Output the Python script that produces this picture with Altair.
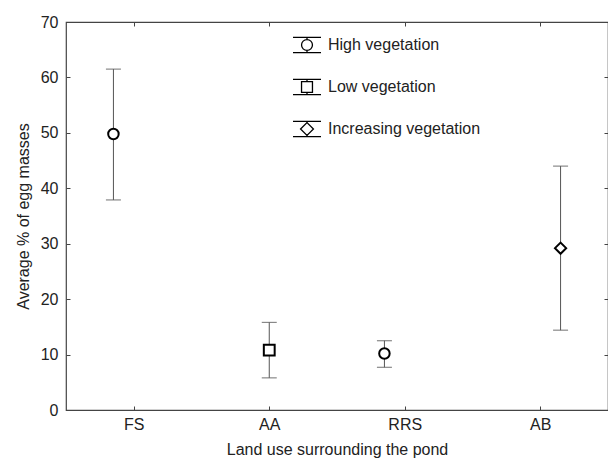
import altair as alt
import pandas as pd

categories = ["FS", "AA", "RRS", "AB"]
groups = ["High vegetation", "Low vegetation", "High vegetation", "Increasing vegetation"]
means = [49.8, 10.8, 10.2, 29.2]
lower = [37.9, 5.8, 7.7, 14.4]
upper = [61.5, 15.8, 12.5, 44.0]

group_order = ["High vegetation", "Low vegetation", "Increasing vegetation"]
dodge = {"High vegetation": -0.15, "Low vegetation": 0.0, "Increasing vegetation": 0.15}

df = pd.DataFrame({"cat": categories, "group": groups, "mean": means, "lo": lower, "hi": upper})
df["pos"] = [categories.index(c) + 1 + dodge[g] for c, g in zip(df["cat"], df["group"])]

FONT = "Liberation Sans"
label_expr = "[" + ",".join("'%s'" % c for c in categories) + "][datum.value - 1]"

xscale = alt.Scale(domain=[0.5, 4.5], nice=False, zero=False)
yscale = alt.Scale(domain=[0, 70], nice=False)

x_bottom = alt.Axis(values=[1, 2, 3, 4], labelExpr=label_expr, title="Land use surrounding the pond",
                    grid=False, domain=False, tickSize={"expr": "-4"}, labelPadding=10,
                    titlePadding=9)
y_left = alt.Axis(values=list(range(0, 71, 10)), title="Average % of egg masses",
                  grid=False, domain=False, tickSize={"expr": "-4"}, labelPadding=12,
                  titlePadding=9)
x_top = alt.Axis(orient="top", values=[1, 2, 3, 4], labels=False, title=None, grid=False,
                 domain=False, tickSize={"expr": "-4"})
y_right = alt.Axis(orient="right", values=list(range(0, 71, 10)), labels=False, title=None,
                   grid=False, domain=False, tickSize={"expr": "-4"})

base = alt.Chart(df)

rules = base.mark_rule(color="#555555", strokeWidth=1).encode(
    x=alt.X("pos:Q", scale=xscale, axis=x_bottom),
    y=alt.Y("lo:Q", scale=yscale, axis=y_left),
    y2="hi:Q",
)

caps_hi = base.mark_tick(color="#555555", orient="horizontal", size=15, thickness=1.2).encode(
    x=alt.X("pos:Q", scale=xscale, axis=x_top),
    y=alt.Y("hi:Q", scale=yscale, axis=y_right),
)
caps_lo = base.mark_tick(color="#555555", orient="horizontal", size=15, thickness=1.2).encode(
    x=alt.X("pos:Q", scale=xscale, axis=None),
    y=alt.Y("lo:Q", scale=yscale, axis=None),
)

points = base.mark_point(filled=True, fill="white", stroke="black", strokeWidth=2, opacity=1).encode(
    x=alt.X("pos:Q", scale=xscale, axis=None),
    y=alt.Y("mean:Q", scale=yscale, axis=None),
    shape=alt.Shape("group:N", scale=alt.Scale(domain=group_order, range=["circle", "square", "diamond"]),
                    legend=None),
    size=alt.Size("group:N", scale=alt.Scale(domain=group_order, range=[110, 125, 160]), legend=None),
)

sym_high = ("M-1,-0.54H1M-1,0.54H1M0,-0.54V-0.39M0,0.39V0.54"
            "M-0.39,0A0.39,0.39,0,1,0,0.39,0A0.39,0.39,0,1,0,-0.39,0Z")
sym_low = ("M-1,-0.54H1M-1,0.54H1M0,-0.54V-0.39M0,0.39V0.54"
           "M-0.39,-0.39H0.39V0.39H-0.39Z")
sym_inc = ("M-1,-0.54H1M-1,0.54H1M0,-0.54V-0.46M0,0.46V0.54"
           "M-0.46,0L0,-0.46L0.46,0L0,0.46Z")

legend_layer = base.transform_filter("false").mark_point(
    filled=False, stroke="black", color="black", strokeWidth=1.3, opacity=1
).encode(
    x=alt.X("pos:Q", scale=xscale, axis=None),
    y=alt.Y("mean:Q", scale=yscale, axis=None),
    shape=alt.Shape("group:N", scale=alt.Scale(domain=group_order, range=[sym_high, sym_low, sym_inc]),
                    legend=alt.Legend(title=None, orient="none", legendX=226, legendY=8,
                                      symbolSize=784, symbolStrokeColor="black",
                                      symbolStrokeWidth=1.3, symbolOpacity=1,
                                      labelFontSize=16, labelFont=FONT,
                                      labelColor="#222222", labelOffset=6, rowPadding=16)),
)

chart = alt.layer(rules, caps_hi, caps_lo, points, legend_layer).resolve_scale(
    shape="independent", size="independent"
).resolve_axis(
    x="independent", y="independent"
).properties(
    width=542, height=388,
    autosize=alt.AutoSizeParams(type="none"),
    padding={"left": 58, "top": 14, "right": 0, "bottom": 48},
).configure_view(
    stroke="#444444", strokeWidth=1.2
).configure_axis(
    labelFont=FONT, titleFont=FONT, labelFontSize=16, titleFontSize=16,
    labelColor="#222222", titleColor="#222222", titleFontWeight="normal",
    tickColor="#444444", tickWidth=1,
)

chart.save("out.html", embed_options={"renderer": "svg", "actions": False})
